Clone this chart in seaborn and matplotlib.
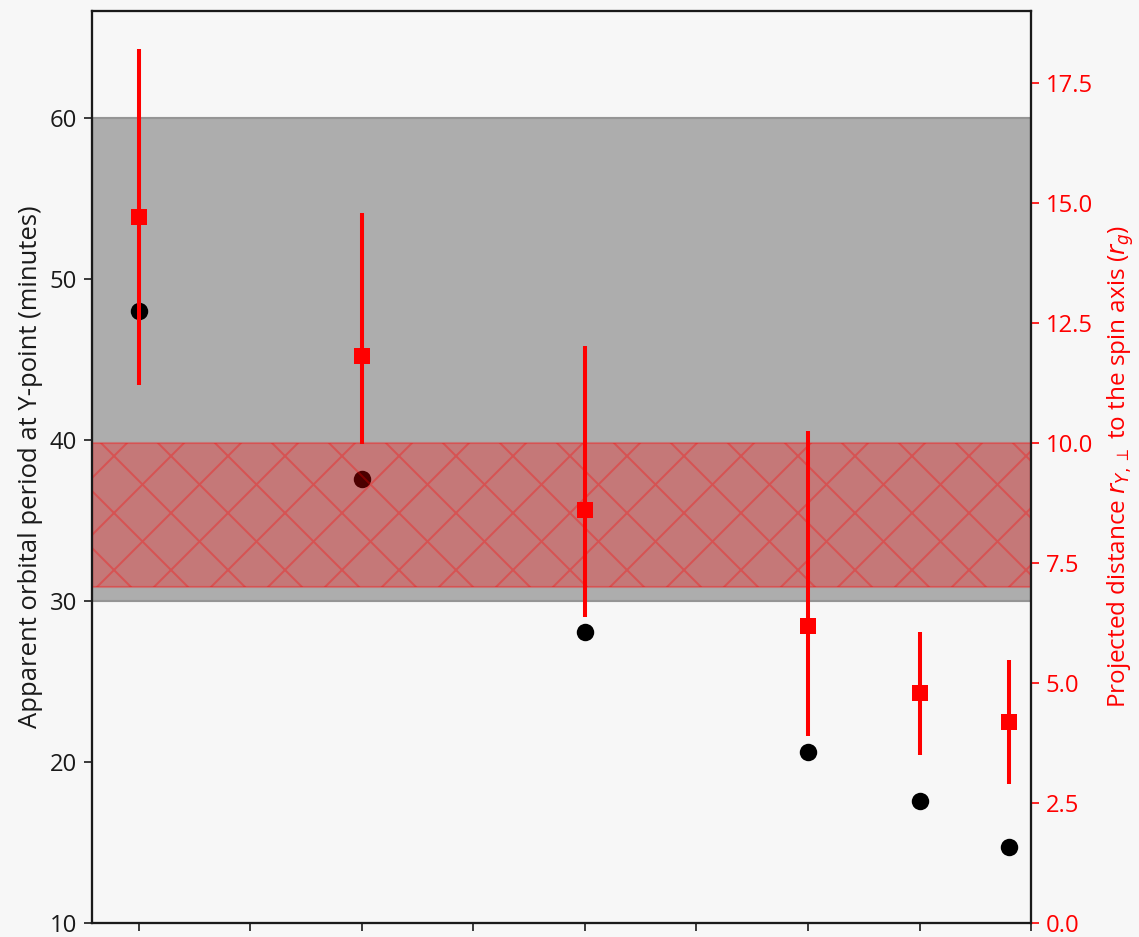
import numpy as np
import matplotlib
matplotlib.use("Agg")
import matplotlib.pyplot as plt
import seaborn as sns

# ---- data ----
x_pos = [0.0, 0.2, 0.4, 0.6, 0.7, 0.78]
period_min = [48.0, 37.6, 28.1, 20.6, 17.6, 14.7]
dist_rg = [14.71, 11.81, 8.60, 6.19, 4.79, 4.19]
dist_hi = [18.21, 14.79, 12.02, 10.25, 6.06, 5.48]
dist_lo = [11.21, 9.98, 6.38, 3.90, 3.50, 2.90]
period_band = [30, 60]
dist_band = [7.0, 10.0]
x_ticks = [0.0, 0.1, 0.2, 0.3, 0.4, 0.5, 0.6, 0.7, 0.8]
left_ticks = [10, 20, 30, 40, 50, 60]
right_ticks = [0.0, 2.5, 5.0, 7.5, 10.0, 12.5, 15.0, 17.5]

DPI = 342
BG = "#f7f7f7"

sns.set_theme(style="ticks")
plt.rcParams.update({
    "font.family": ["Open Sans", "DejaVu Sans"],
    "font.size": 5.0,
    "axes.labelsize": 5.0,
    "xtick.labelsize": 5.0,
    "ytick.labelsize": 5.0,
    "axes.linewidth": 0.45,
    "xtick.major.width": 0.35,
    "ytick.major.width": 0.35,
    "xtick.major.size": 1.6,
    "ytick.major.size": 1.6,
    "xtick.major.pad": 1.5,
    "ytick.major.pad": 1.5,
    "axes.labelpad": 2.0,
    "hatch.linewidth": 0.42,
    "axes.edgecolor": "#1a1a1a",
    "text.color": "#1a1a1a",
    "xtick.color": "#1a1a1a",
    "ytick.color": "#1a1a1a",
    "axes.labelcolor": "#1a1a1a",
    "mathtext.fontset": "dejavusans",
})

fig = plt.figure(figsize=(1139 / DPI, 937 / DPI), dpi=DPI, facecolor=BG)
ax = fig.add_axes([0.0808, 0.0149, 0.8244, 0.9734])
ax.set_facecolor(BG)

ax.axhspan(period_band[0], period_band[1], facecolor="#adadad", edgecolor="#959595",
           lw=0.45, zorder=0)
sns.scatterplot(x=x_pos, y=period_min, ax=ax, color="black", marker="o",
                s=13.5, linewidth=0, zorder=3)

ax.set_xlim(-0.042, 0.8)
ax.set_ylim(10, 66.65)
ax.set_xticks(x_ticks)
ax.set_xticklabels([])
ax.set_yticks(left_ticks)
ax.set_ylabel("Apparent orbital period at Y-point (minutes)", fontsize=5.4, labelpad=1.5)

ax2 = ax.twinx()
ax2.axhspan(dist_band[0], dist_band[1], facecolor="red", edgecolor="red",
            alpha=0.3, hatch="xx", lw=0.45, zorder=0)
yerr = [np.array(dist_rg) - np.array(dist_lo), np.array(dist_hi) - np.array(dist_rg)]
ax2.errorbar(x_pos, dist_rg, yerr=yerr, fmt="none", ecolor="red", elinewidth=0.85,
             capsize=0, zorder=3)
sns.scatterplot(x=x_pos, y=dist_rg, ax=ax2, color="red", marker="s", s=12.5,
                linewidth=0, zorder=4)
ax2.set_ylim(0, 19.0)
ax2.set_yticks(right_ticks)
ax2.set_yticklabels([f"{v:.1f}" for v in right_ticks])
ax2.tick_params(axis="y", colors="red")
ax2.set_ylabel(r"Projected distance $r_{Y,\perp}$ to the spin axis ($r_g$)", color="red",
               fontsize=5.1, labelpad=2.5)
ax2.spines["right"].set_color("#1a1a1a")

fig.savefig("out.png", dpi=DPI, facecolor=BG)
